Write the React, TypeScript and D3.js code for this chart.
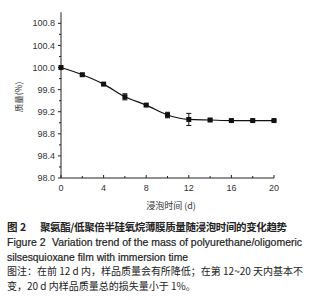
import React from "react";
import * as d3 from "d3";

const days = [0, 2, 4, 6, 8, 10, 12, 14, 16, 18, 20];
const mass = [100.0, 99.87, 99.7, 99.47, 99.32, 99.14, 99.06, 99.05, 99.04, 99.04, 99.04];
const errs = [0.0, 0.015, 0.015, 0.055, 0.02, 0.05, 0.11, 0.02, 0.012, 0.012, 0.012];
const yTicks = [98.0, 98.4, 98.8, 99.2, 99.6, 100.0, 100.4, 100.8];
const yMinor = [98.2, 98.6, 99.0, 99.4, 99.8, 100.2, 100.6];
const xTicks = [0, 4, 8, 12, 16, 20];
const xMinor = [2, 6, 10, 14, 18];

const caption1a = "图 2";
const caption1b = "聚氨酯/低聚倍半硅氧烷薄膜质量随浸泡时间的变化趋势";
const caption2a = "Figure 2";
const caption2b = "Variation trend of the mass of polyurethane/oligomeric";
const caption3 = "silsesquioxane film with immersion time";
const caption4 = "图注：在前 12 d 内，样品质量会有所降低；在第 12~20 天内基本不";
const caption5 = "变，20 d 内样品质量总的损失量小于 1%。";

export default function App() {
  const x = d3.scaleLinear().domain([0, 20]).range([61, 274]);
  const y = d3.scaleLinear().domain([98, 101]).range([178, 12.3]);
  const line = d3
    .line<number>()
    .x((_, i) => x(days[i]))
    .y((d) => y(d))
    .curve(d3.curveMonotoneX);
  const font = "'Liberation Sans', Arial, sans-serif";
  const cjk = "'Noto Sans CJK SC', sans-serif";
  return (
    <svg
      width={331}
      height={300}
      style={{ position: "absolute", left: 0, top: 0, background: "#fff" }}
    >
      <rect width={331} height={300} fill="#fff" />
      {/* axes */}
      <line x1={x(0)} x2={x(0)} y1={y(101)} y2={y(98)} stroke="#222" strokeWidth={1} />
      <line x1={x(0)} x2={x(20)} y1={y(98)} y2={y(98)} stroke="#222" strokeWidth={1} />
      {yTicks.map((t) => (
        <g key={"y" + t}>
          <line x1={x(0) - 3} x2={x(0)} y1={y(t)} y2={y(t)} stroke="#222" />
          <text
            x={x(0) - 6}
            y={y(t)}
            dy="0.35em"
            textAnchor="end"
            fontFamily={font}
            fontSize={9}
            fill="#333"
          >
            {t.toFixed(1)}
          </text>
        </g>
      ))}
      {yMinor.map((t) => (
        <line key={"ym" + t} x1={x(0) - 2} x2={x(0)} y1={y(t)} y2={y(t)} stroke="#222" />
      ))}
      {xTicks.map((t) => (
        <g key={"x" + t}>
          <line x1={x(t)} x2={x(t)} y1={y(98)} y2={y(98) - 3} stroke="#222" />
          <text
            x={x(t)}
            y={y(98) + 13}
            textAnchor="middle"
            fontFamily={font}
            fontSize={9}
            fill="#333"
          >
            {t}
          </text>
        </g>
      ))}
      {xMinor.map((t) => (
        <line key={"xm" + t} x1={x(t)} x2={x(t)} y1={y(98)} y2={y(98) - 2} stroke="#222" />
      ))}
      {/* axis labels */}
      <text
        transform="translate(22,97) rotate(-90)"
        textAnchor="middle"
        fontFamily={cjk}
        fontSize={8.5}
        fill="#333"
      >
        质量(%)
      </text>
      <text x={171} y={209} textAnchor="middle" fontFamily={cjk} fontSize={9} fill="#333" style={{ whiteSpace: "pre" }}>
        浸泡时间 (d)
      </text>
      {/* line */}
      <path d={line(mass) || ""} fill="none" stroke="#111" strokeWidth={1.2} />
      {/* error bars */}
      {mass.map((m, i) =>
        errs[i] > 0 ? (
          <g key={"e" + i} stroke="#111" strokeWidth={1}>
            <line x1={x(days[i])} x2={x(days[i])} y1={y(m - errs[i])} y2={y(m + errs[i])} />
            <line x1={x(days[i]) - 2.5} x2={x(days[i]) + 2.5} y1={y(m - errs[i])} y2={y(m - errs[i])} />
            <line x1={x(days[i]) - 2.5} x2={x(days[i]) + 2.5} y1={y(m + errs[i])} y2={y(m + errs[i])} />
          </g>
        ) : null
      )}
      {mass.map((m, i) => (
        <rect
          key={"p" + i}
          x={x(days[i]) - 2.5}
          y={y(m) - 2.5}
          width={5}
          height={5}
          fill="#111"
        />
      ))}
      {/* captions */}
      <text x={7} y={231} fontFamily={cjk} fontSize={10.5} fontWeight="bold" fill="#222">
        {caption1a}
      </text>
      <text x={40} y={231} fontFamily={cjk} fontSize={10.5} fontWeight="bold" fill="#222" textLength={247} lengthAdjust="spacing">
        {caption1b}
      </text>
      <text x={7} y={246} fontFamily={font} fontSize={10.5} fill="#222" stroke="#222" strokeWidth={0.2}>
        {caption2a}
      </text>
      <text x={52} y={246} fontFamily={font} fontSize={10.5} fill="#222" stroke="#222" strokeWidth={0.2} textLength={250} lengthAdjust="spacingAndGlyphs">
        {caption2b}
      </text>
      <text x={7} y={260.5} fontFamily={font} fontSize={10.5} fill="#222" stroke="#222" strokeWidth={0.2} textLength={181} lengthAdjust="spacingAndGlyphs">
        {caption3}
      </text>
      <text x={7} y={275} fontFamily={cjk} fontSize={10} fill="#222" textLength={296} lengthAdjust="spacing" style={{ whiteSpace: "pre" }}>
        {caption4}
      </text>
      <text x={7} y={289.5} fontFamily={cjk} fontSize={10} fill="#222" style={{ whiteSpace: "pre" }}>
        {caption5}
      </text>
    </svg>
  );
}
